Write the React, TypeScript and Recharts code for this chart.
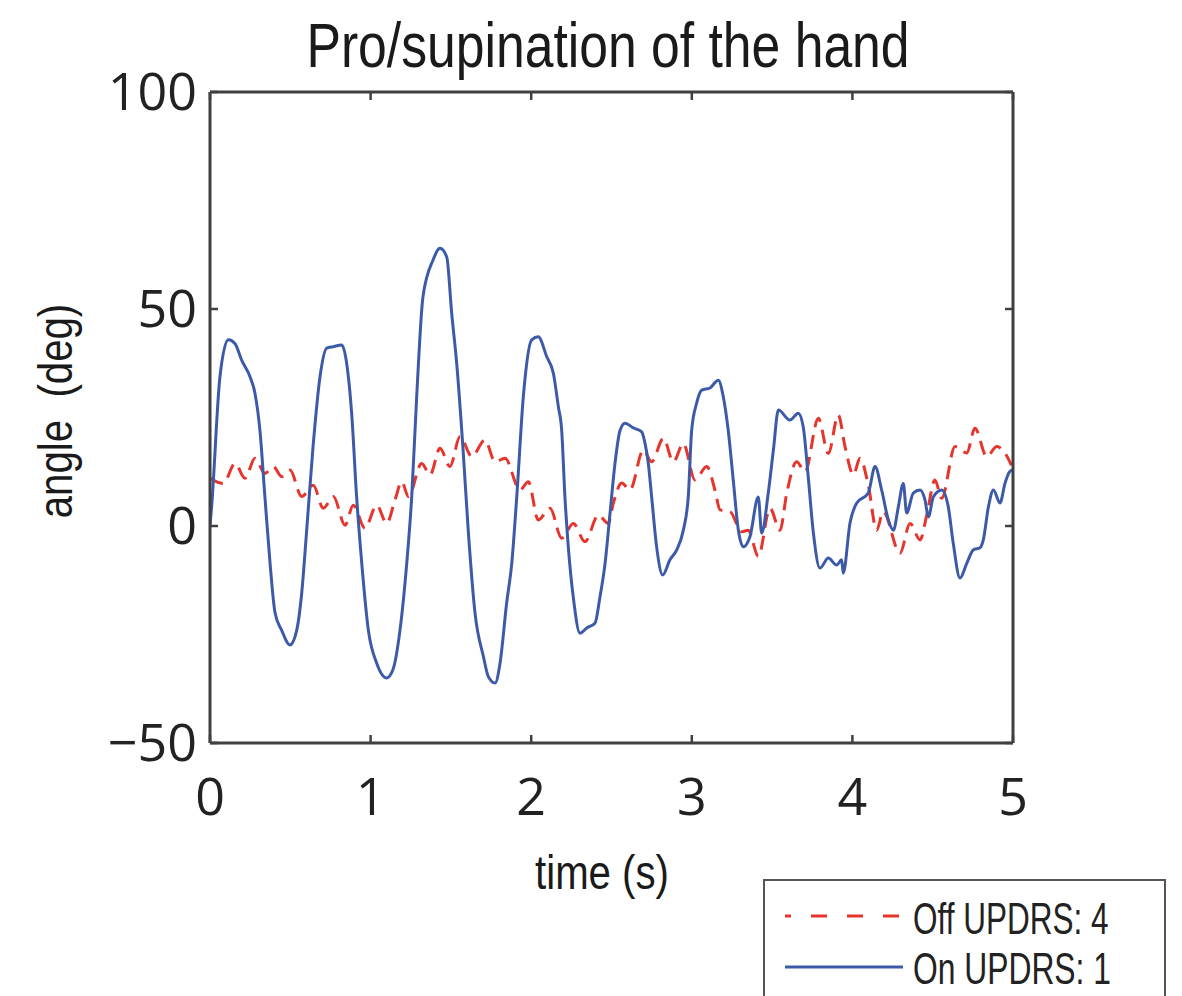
import React from 'react';
import { LineChart, Line, XAxis, YAxis, Legend } from 'recharts';

// "Off" (UPDRS 4) trace: time (s) and angle (deg)
const offTime = [
  0, 0.083, 0.156, 0.218, 0.28, 0.342, 0.394, 0.446, 0.498, 0.571, 0.643, 0.705, 0.768, 0.841, 0.892,
  0.965, 1.038, 1.1, 1.152, 1.194, 1.235, 1.318, 1.37, 1.432, 1.494, 1.557, 1.63, 1.712, 1.775, 1.837,
  1.93, 1.982, 2.044, 2.117, 2.19, 2.262, 2.335, 2.418, 2.48, 2.511, 2.564, 2.615, 2.698, 2.75, 2.823,
  2.885, 2.947, 3.02, 3.093, 3.144, 3.176, 3.238, 3.311, 3.352, 3.414, 3.487, 3.549, 3.591, 3.653, 3.705,
  3.788, 3.85, 3.912, 3.954, 4.006, 4.047, 4.099, 4.151, 4.192, 4.296, 4.359, 4.421, 4.463, 4.514, 4.556,
  4.639, 4.712, 4.763, 4.836, 4.899, 4.95, 4.99,
];
const offAngle = [
  11, 9.8, 14.4, 11, 15.6, 12.1, 13.7, 11.4, 12.9, 6.8, 9.4, 4.1, 6.8, 0.2, 4.8,
  -0.5, 4.8, 0.6, 6, 10.2, 6.8, 14.4, 11.8, 17.9, 13.7, 20.6, 16, 19.8, 14.8, 15.6,
  8.3, 10.2, 1.4, 4.1, -2.8, 0.6, -3.6, 2.5, 0.6, 5.2, 9.9, 8.3, 17.5, 14.8, 20.2,
  14.8, 19, 10.6, 13.7, 8.3, 3.7, 3.3, -1.3, -1, -7, 4.1, -1, 7.5, 14.8, 12.5,
  24.8, 16.7, 25.6, 18.3, 11.8, 15.6, 9.4, -1, 3.3, -6.3, 0.6, -3.2, 2.5, 10.6, 6.4,
  18.3, 16.8, 22.5, 16, 18.3, 16.8, 14,
];

// "On" (UPDRS 1) trace: time (s) and angle (deg)
const onTime = [
  0, 0.01, 0.062, 0.114, 0.156, 0.197, 0.249, 0.28, 0.311, 0.342, 0.374, 0.405, 0.446, 0.498, 0.54,
  0.571, 0.602, 0.641, 0.685, 0.727, 0.766, 0.82, 0.851, 0.882, 0.913, 0.945, 0.986, 1.038, 1.1, 1.14,
  1.183, 1.225, 1.256, 1.287, 1.326, 1.389, 1.432, 1.474, 1.505, 1.536, 1.575, 1.608, 1.65, 1.702, 1.733,
  1.775, 1.806, 1.847, 1.879, 1.91, 1.951, 2.003, 2.044, 2.097, 2.138, 2.169, 2.19, 2.21, 2.231, 2.262,
  2.304, 2.346, 2.397, 2.428, 2.46, 2.491, 2.522, 2.553, 2.584, 2.636, 2.688, 2.709, 2.729, 2.75, 2.781,
  2.819, 2.864, 2.906, 2.947, 2.978, 2.999, 3.03, 3.062, 3.113, 3.165, 3.196, 3.227, 3.258, 3.29, 3.321,
  3.362, 3.414, 3.435, 3.476, 3.508, 3.539, 3.611, 3.663, 3.694, 3.725, 3.757, 3.798, 3.85, 3.902, 3.933,
  3.943, 3.985, 4.027, 4.099, 4.141, 4.182, 4.224, 4.255, 4.286, 4.317, 4.338, 4.379, 4.421, 4.452, 4.473,
  4.504, 4.556, 4.597, 4.628, 4.67, 4.712, 4.753, 4.795, 4.815, 4.847, 4.878, 4.919, 4.95, 4.977, 5,
];
const onAngle = [
  0, 4.4, 34.4, 42.9, 42, 38.2, 34.4, 30.6, 22, 6.7, -8.6, -20, -24, -27.4, -24,
  -15.5, -1, 18, 34.4, 41, 41.3, 41.7, 37.5, 26, 6.7, -8.6, -24, -31.6, -35, -33,
  -24, -8.6, 6.7, 29.8, 52.8, 61.3, 64, 62, 49, 37.5, 18, -1, -20, -30, -34.7,
  -36.2, -31.6, -17.8, -8.6, 6.7, 29.8, 42.9, 43.6, 39, 35.2, 27.5, 22, 6.7, -4.8, -16.4,
  -24.7, -23.5, -22.4, -16.4, -8.6, 3, 14.5, 22, 23.7, 22.6, 21.7, 19, 14.5, 6.7, -4.8,
  -11.3, -7.8, -5.5, -1, 6.7, 22, 28.3, 31.3, 31.8, 33.6, 29.8, 22, 10.6, -1, -4.8,
  -2.5, 6.7, -1.6, 7.6, 17.5, 26.7, 24.4, 26, 22.8, 11.3, -1.6, -9.7, -7.4, -9, -7.8,
  -10.9, 0.7, 5.3, 7.6, 13.7, 8.3, 1.4, -1, 4.4, 9.8, 3, 7.6, 8.3, 6, 2.1,
  6.7, 8.3, 4.4, -4, -12, -8.6, -5.5, -5, -3.2, 4.4, 8.3, 5.3, 9.8, 12.4, 13,
];

const xTicks = [0, 1, 2, 3, 4, 5];
const yTicks = [-50, 0, 50, 100];
const seriesNames = ['Off UPDRS: 4', 'On UPDRS: 1'];
const titleText = 'Pro/supination of the hand';
const xLabelText = 'time (s)';
const yLabelText = 'angle  (deg)';

const offData = offTime.map((t, i) => ({ t, off: offAngle[i] }));
const onData = onTime.map((t, i) => ({ t, on: onAngle[i] }));

const RED = '#e5352d';
const BLUE = '#3c5aa8';
const AXIS = '#404040';
const SANS = "'Liberation Sans', Arial, sans-serif";
const TICKFONT = "'Open Sans', 'Noto Sans', sans-serif";

const fmtY = (v: number) => (v < 0 ? '\u2212' + Math.abs(v) : String(v));

const LegendBox = () => (
  <svg width={403} height={130} style={{ display: 'block' }}>
    <rect x={1} y={1} width={401} height={140} fill="#fff" stroke="#555" strokeWidth={2} />
    <line x1={22} y1={37} x2={140} y2={37} stroke={RED} strokeWidth={3} strokeDasharray="16 20" strokeDashoffset={10} />
    <text transform="translate(150,55) scale(0.7,1)" x={0} y={0} fontFamily={SANS} fontSize={45} fill="#222">
      {seriesNames[0]}
    </text>
    <line x1={22} y1={88} x2={140} y2={88} stroke={BLUE} strokeWidth={3} />
    <text transform="translate(150,105) scale(0.707,1)" x={0} y={0} fontFamily={SANS} fontSize={45} fill="#222">
      {seriesNames[1]}
    </text>
  </svg>
);

const noTick = () => null;

const narrowText: React.CSSProperties = {
  position: 'absolute',
  fontFamily: SANS,
  color: '#1a1a1a',
  whiteSpace: 'pre',
};

export default function App() {
  return (
    <div
      style={{
        position: 'fixed',
        left: 0,
        top: 0,
        width: 1182,
        height: 996,
        overflow: 'hidden',
        background: '#fff',
      }}
    >
      <div
        style={{
          ...narrowText,
          left: 608,
          top: 14,
          fontSize: 63,
          lineHeight: '63px',
          transform: 'translateX(-50%) scaleX(0.82)',
        }}
      >
        {titleText}
      </div>
      <div
        style={{
          ...narrowText,
          left: 602,
          top: 848,
          fontSize: 49,
          lineHeight: '49px',
          transform: 'translateX(-50%) scaleX(0.82)',
        }}
      >
        {xLabelText}
      </div>
      <div
        style={{
          ...narrowText,
          left: 55,
          top: 411,
          fontSize: 49,
          lineHeight: '49px',
          transform: 'translate(-50%, -50%) rotate(-90deg) scaleX(0.82)',
        }}
      >
        {yLabelText}
      </div>
      <div style={{ position: 'absolute', left: 0, top: 0 }}>
        <LineChart width={1182} height={996} margin={{ top: 91, right: 168, bottom: 193, left: 110 }}>
          <XAxis
            xAxisId="b"
            type="number"
            dataKey="t"
            domain={[0, 5]}
            ticks={xTicks}
            allowDataOverflow
            height={60}
            axisLine={{ stroke: AXIS, strokeWidth: 3 }}
            tickLine={{ stroke: AXIS, strokeWidth: 2.5 }}
            tickSize={-8}
            tickMargin={43}
            tick={{ fontFamily: TICKFONT, fontSize: 52, fill: '#222' }}
          />
          <XAxis
            xAxisId="top"
            orientation="top"
            type="number"
            dataKey="t"
            domain={[0, 5]}
            ticks={xTicks}
            allowDataOverflow
            height={1}
            axisLine={{ stroke: AXIS, strokeWidth: 3 }}
            tickLine={{ stroke: AXIS, strokeWidth: 2.5 }}
            tickSize={-8}
            tick={noTick}
          />
          <YAxis
            yAxisId="l"
            type="number"
            domain={[-50, 100]}
            ticks={yTicks}
            allowDataOverflow
            width={100}
            axisLine={{ stroke: AXIS, strokeWidth: 3 }}
            tickLine={{ stroke: AXIS, strokeWidth: 2.5 }}
            tickSize={-8}
            tickMargin={21}
            tickFormatter={fmtY}
            tick={{ fontFamily: TICKFONT, fontSize: 52, fill: '#222' }}
          />
          <YAxis
            yAxisId="r"
            orientation="right"
            type="number"
            domain={[-50, 100]}
            ticks={yTicks}
            allowDataOverflow
            width={1}
            axisLine={{ stroke: AXIS, strokeWidth: 3 }}
            tickLine={{ stroke: AXIS, strokeWidth: 2.5 }}
            tickSize={-8}
            tick={noTick}
          />
          <Line
            xAxisId="top"
            yAxisId="r"
            data={onData}
            dataKey="on"
            legendType="none"
            stroke="none"
            strokeWidth={0}
            dot={false}
            activeDot={false}
            isAnimationActive={false}
          />
          <Line
            xAxisId="b"
            yAxisId="l"
            data={offData}
            dataKey="off"
            name={seriesNames[0]}
            type="monotone"
            stroke={RED}
            strokeWidth={3}
            strokeDasharray="14 8"
            dot={false}
            activeDot={false}
            isAnimationActive={false}
          />
          <Line
            xAxisId="b"
            yAxisId="l"
            data={onData}
            dataKey="on"
            name={seriesNames[1]}
            type="monotone"
            stroke={BLUE}
            strokeWidth={3}
            dot={false}
            activeDot={false}
            isAnimationActive={false}
          />
          <Legend
            layout="vertical"
            align="center"
            verticalAlign="middle"
            content={<LegendBox />}
            wrapperStyle={{ position: 'absolute', left: 763, top: 879, width: 403, height: 130 }}
          />
        </LineChart>
      </div>
    </div>
  );
}
